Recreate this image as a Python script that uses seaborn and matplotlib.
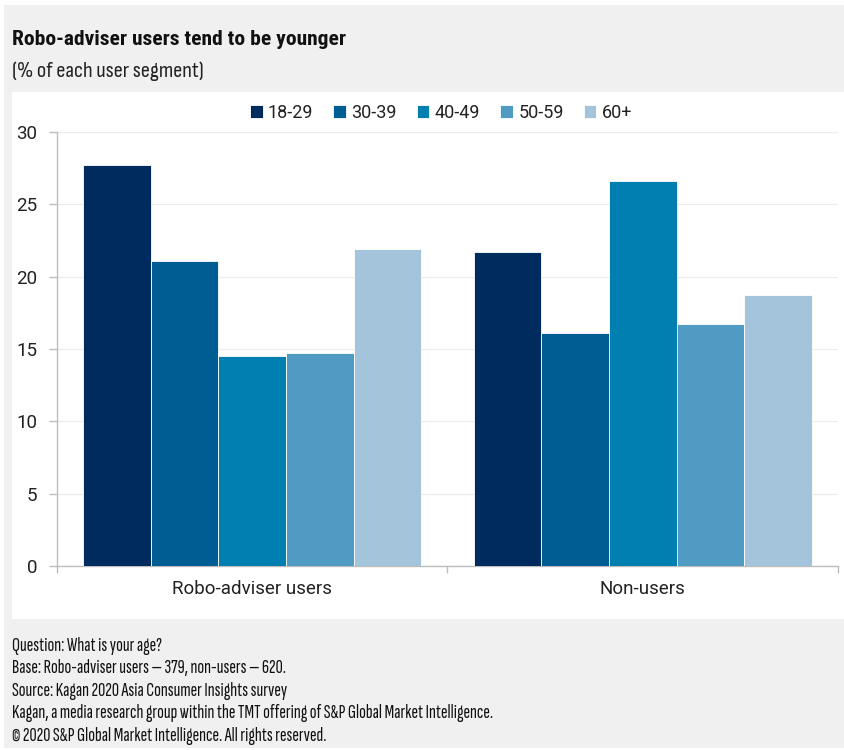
import matplotlib
matplotlib.use("Agg")
import matplotlib.pyplot as plt
from matplotlib.patches import Rectangle
import seaborn as sns
import pandas as pd

segments = ["Robo-adviser users", "Non-users"]
age_groups = ["18-29", "30-39", "40-49", "50-59", "60+"]
robo_users = [27.7, 21.1, 14.5, 14.7, 21.9]
non_users = [21.7, 16.1, 26.6, 16.7, 18.7]
palette = ["#002B5E", "#005D93", "#007FB0", "#4F9BC4", "#A3C4DB"]
y_ticks = [0, 5, 10, 15, 20, 25, 30]

title = "Robo-adviser users tend to be younger"
subtitle = "(% of each user segment)"
footer = [
    "Question: What is your age?",
    "Base: Robo-adviser users \u2014 379, non-users \u2014 620.",
    "Source: Kagan 2020 Asia Consumer Insights survey",
    "Kagan, a media research group within the TMT offering of S&P Global Market Intelligence.",
    "\u00a9 2020 S&P Global Market Intelligence. All rights reserved.",
]

rows = []
for seg, vals in zip(segments, [robo_users, non_users]):
    for age, v in zip(age_groups, vals):
        rows.append({"segment": seg, "age": age, "share": v})
df = pd.DataFrame(rows)

sns.set_theme(style="white")
plt.rcParams["font.family"] = ["Roboto", "DejaVu Sans"]
title_font = ["Roboto Condensed", "DejaVu Sans"]
sub_font = ["Sofia Sans Condensed", "Roboto Condensed", "DejaVu Sans"]
note_font = ["Sofia Sans Extra Condensed", "Sofia Sans Condensed", "DejaVu Sans"]

W, H = 845, 750
fig = plt.figure(figsize=(W / 100, H / 100), dpi=100)
fig.patch.set_facecolor("white")

# grey card with a white panel holding the chart
fig.patches.append(Rectangle((4 / W, 2 / H), 841 / W, 743 / H,
                             transform=fig.transFigure, facecolor="#f0f0f0",
                             edgecolor="none", zorder=-2))
fig.patches.append(Rectangle((12 / W, 1 - 619 / H), 833 / W, 527 / H,
                             transform=fig.transFigure, facecolor="white",
                             edgecolor="none", zorder=-1))

ax = fig.add_axes([57 / W, 1 - 566 / H, (838 - 57) / W, (566 - 132) / H])
ax.set_facecolor("white")

sns.barplot(data=df, x="segment", y="share", hue="age", hue_order=age_groups,
            palette=palette, saturation=1, width=0.865, edgecolor="white",
            linewidth=0.6, ax=ax, errorbar=None, zorder=3)

ax.set_xlim(-0.5, 1.5)
ax.set_ylim(0, 30)
ax.set_yticks(y_ticks)
ax.set_xlabel("")
ax.set_ylabel("")
ax.yaxis.grid(True, color="#ececec", linewidth=0.9, zorder=0)
ax.set_axisbelow(True)

for side in ["top", "right"]:
    ax.spines[side].set_visible(False)
for side in ["left", "bottom"]:
    ax.spines[side].set_color("#bdbdbd")
    ax.spines[side].set_linewidth(1.0)

ax.tick_params(axis="y", length=6, width=1, color="#bdbdbd", labelsize=13.5,
               labelcolor="#222222", pad=8, left=True)
ax.tick_params(axis="x", which="major", length=0, labelsize=13.5,
               labelcolor="#222222", pad=10)
ax.set_xticks([-0.5, 0.5, 1.5], minor=True)
ax.tick_params(axis="x", which="minor", length=5, width=1, color="#bdbdbd",
               bottom=True, direction="out")

handles, labels = ax.get_legend_handles_labels()
ax.get_legend().remove()
fig.legend(handles, labels, ncol=5, loc="center",
           bbox_to_anchor=(441 / W, 1 - 113 / H), frameon=False,
           handlelength=0.7, handleheight=0.7, handletextpad=0.3,
           columnspacing=1.1, fontsize=13, labelcolor="#222222")

renderer = fig.canvas.get_renderer()


def line_text(y_px, s, size, family, **kw):
    return fig.text(12 / W, 1 - y_px / H, s, fontsize=size, family=family,
                    va="baseline", ha="left", **kw)


def fit_size(t, width_px):
    """Size that makes text t span width_px."""
    w = t.get_window_extent(renderer).width
    return t.get_fontsize() * width_px / w


t_title = line_text(45, title, 21, title_font, fontweight="bold",
                    color="#111111")
t_title.set_fontsize(fit_size(t_title, 333))
t_sub = line_text(77, subtitle, 16, sub_font, color="#222222")
t_sub.set_fontsize(fit_size(t_sub, 191))

footer_texts = [line_text(651 + 22.4 * i, line, 13, note_font, color="#111111")
                for i, line in enumerate(footer)]
footer_size = fit_size(footer_texts[3], 481)
for t in footer_texts:
    t.set_fontsize(footer_size)

fig.savefig("out.png", dpi=100, facecolor=fig.get_facecolor())
